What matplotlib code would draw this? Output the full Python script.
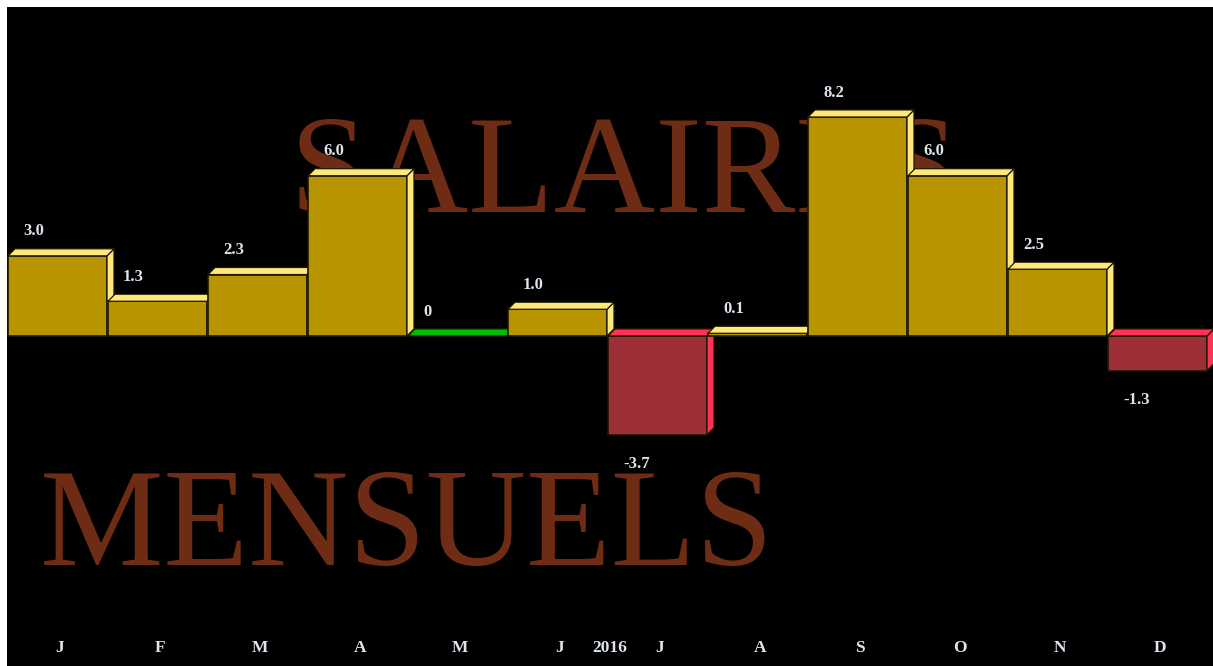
import matplotlib
matplotlib.use("Agg")
import matplotlib.pyplot as plt
from matplotlib.patches import Polygon, Rectangle

months = ["J", "F", "M", "A", "M", "J", "J", "A", "S", "O", "N", "D"]
values = [3.0, 1.3, 2.3, 6.0, 0.0, 1.0, -3.7, 0.1, 8.2, 6.0, 2.5, -1.3]
value_labels = ["3.0", "1.3", "2.3", "6.0", "0", "1.0", "-3.7", "0.1", "8.2", "6.0", "2.5", "-1.3"]
year_label = "2016"
title_top = "SALAIRES"
title_bottom = "MENSUELS"

POS_FRONT, POS_LIGHT = "#B89400", "#FFE87A"
NEG_FRONT, NEG_LIGHT = "#9E2F38", "#FF3355"
ZERO = "#00BB00"
EDGE = "#1c1800"
TXT = "#dde4ee"
BROWN = "#6E2C14"

W, H = 1213, 666
fig = plt.figure(figsize=(W / 100, H / 100), dpi=100, facecolor="white")
ax = fig.add_axes([7 / W, 0, (W - 7) / W, (H - 7) / H])
ax.set_facecolor("black")
ax.set_xlim(-0.51, 11.55)
ax.set_ylim(-12.36, 12.32)
ax.axis("off")
ax.add_patch(Rectangle((0, 0), 1, 1, transform=ax.transAxes, color="black", zorder=0))

serif = "Liberation Serif"
ax.text(2.32, 4.64, title_top, fontsize=101, family=serif, color=BROWN,
        ha="left", va="baseline", zorder=1)
ax.text(-0.18, -8.58, title_bottom, fontsize=100, family=serif, color=BROWN,
        ha="left", va="baseline", zorder=1)

dx, dy = 0.07, 0.265
bw = 0.99
for i, v in enumerate(values):
    x0, x1 = i - 0.5, i - 0.5 + bw
    lo, hi = min(0, v), max(0, v)
    z = 2 + i
    if v > 0:
        front, light = POS_FRONT, POS_LIGHT
    elif v < 0:
        front, light = NEG_FRONT, NEG_LIGHT
    else:
        front, light = ZERO, ZERO
    if hi > lo:
        ax.add_patch(Rectangle((x0, lo), bw, hi - lo, facecolor=front,
                               edgecolor=EDGE, linewidth=1.2, zorder=z))
        ax.add_patch(Polygon([(x1, hi), (x1 + dx, hi + dy), (x1 + dx, lo + dy), (x1, lo)],
                             closed=True, facecolor=light, edgecolor=EDGE,
                             linewidth=0.9, zorder=z))
    ax.add_patch(Polygon([(x0, hi), (x1, hi), (x1 + dx, hi + dy), (x0 + dx, hi + dy)],
                         closed=True, facecolor=light, edgecolor=EDGE,
                         linewidth=0.9, zorder=z))
    if v >= 0:
        ax.text(x0 + 0.15, hi + dy + 0.35, value_labels[i], fontsize=12,
                family=serif, weight="bold", color=TXT, ha="left", va="bottom", zorder=20)
    else:
        ax.text(x0 + 0.15, lo - 0.8, value_labels[i], fontsize=12,
                family=serif, weight="bold", color=TXT, ha="left", va="top", zorder=20)

for i, m in enumerate(months):
    ax.text(i + 0.02, -11.69, m, fontsize=12.5, family=serif, weight="bold",
            color=TXT, ha="center", va="center", zorder=20)
ax.text(5.52, -11.69, year_label, fontsize=12.5, family=serif, weight="bold",
        color=TXT, ha="center", va="center", zorder=20)

fig.savefig("out.png", dpi=100, facecolor="white")
